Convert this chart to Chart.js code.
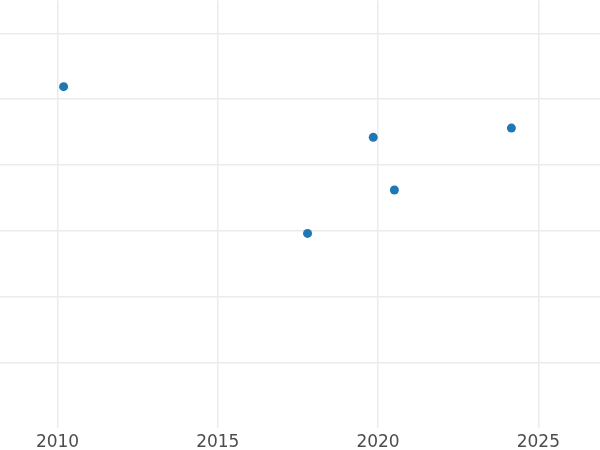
<!DOCTYPE html>
<html>
<head>
<meta charset="utf-8">
<script src="https://cdn.jsdelivr.net/npm/chart.js@4"></script>
<style>
  html, body { margin: 0; padding: 0; background: #ffffff; overflow: hidden; }
  body { width: 600px; height: 450px; position: relative; }
  /* canvas slightly bigger than the window so the plot area reaches the edges */
  #wrap { position: absolute; left: -5px; top: -4px; width: 610px; height: 453px; }
</style>
</head>
<body>
<div id="wrap"><canvas id="scatter-chart"></canvas></div>
<script>
// values
var years = [2010.19, 2017.80, 2019.85, 2020.51, 2024.16];
var values = [4.19, 1.96, 3.42, 2.62, 3.56];
var xTicks = [2010, 2015, 2020, 2025];
var yTicks = [0, 1, 2, 3, 4, 5];

var points = years.map(function (x, i) { return { x: x, y: values[i] }; });

var ctx = document.getElementById("scatter-chart");

var myScatter = new Chart(ctx, {
    type: 'scatter',
    data: {
        datasets: [
            {
                data: points,
                backgroundColor: '#1f77b4',
                borderWidth: 0,
                pointRadius: 4.5,
                pointHoverRadius: 4.5
            }
        ]
    },
    options: {
        maintainAspectRatio: false,
        animation: false,
        layout: { padding: { left: 0, right: 0, top: 0, bottom: -7.5 } },
        plugins: {
            legend: { display: false },
            tooltip: { enabled: false }
        },
        scales: {
            x: {
                type: 'linear',
                min: 2008.19,
                max: 2026.94,
                afterBuildTicks: function (axis) {
                    axis.ticks = xTicks.map(function (v) { return { value: v }; });
                },
                grid: { color: '#ebebeb', lineWidth: 1.5, drawTicks: false },
                border: { display: false },
                ticks: {
                    padding: 4,
                    color: '#4d4d4d',
                    font: { family: 'DejaVu Sans', size: 17 },
                    maxRotation: 0,
                    callback: function (v) { return String(v); }
                }
            },
            y: {
                min: -1,
                max: 5.5,
                afterBuildTicks: function (axis) {
                    axis.ticks = yTicks.map(function (v) { return { value: v }; });
                },
                grid: { color: '#ebebeb', lineWidth: 1.5, drawTicks: false },
                border: { display: false },
                ticks: { display: false }
            }
        }
    }
});
</script>
</body>
</html>
